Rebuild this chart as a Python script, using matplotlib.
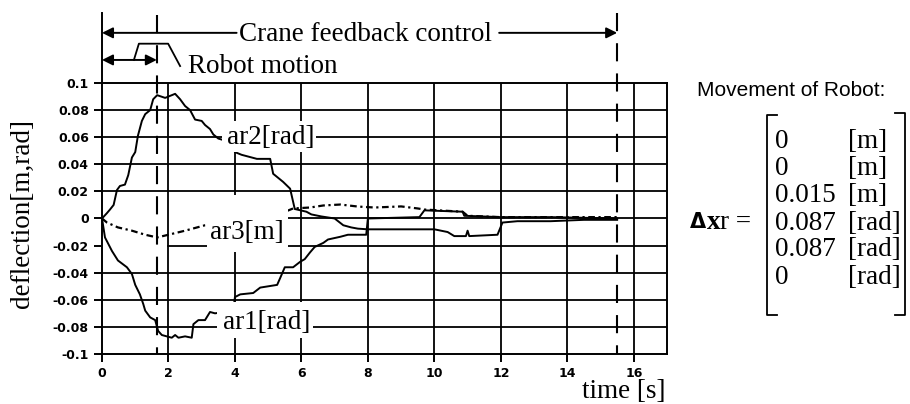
import matplotlib
matplotlib.use("Agg")
import matplotlib.pyplot as plt
from matplotlib.patches import Rectangle
from matplotlib.lines import Line2D

# ---- data ----
t_ar2 = [0, 0.15, 0.24, 0.35, 0.45, 0.54, 0.69, 0.79, 0.9, 1.0, 1.08, 1.2, 1.3, 1.45, 1.54, 1.66, 1.9, 2.2,
         2.35, 2.5, 2.65, 2.8, 3.0, 3.1, 3.25, 3.35, 3.5, 3.9, 4.0, 4.2, 4.66, 5.06, 5.15, 5.45, 5.66, 5.8,
         6.15, 6.3, 6.6, 7.0, 7.26, 7.5, 7.7, 8.0, 10.0, 10.4, 10.6, 10.95, 11.0, 11.05, 11.9, 12.05, 12.5,
         13.5, 14.5, 15.5]
ar2 = [0, 0.004, 0.0066, 0.010, 0.021, 0.024, 0.025, 0.032, 0.045, 0.049, 0.061, 0.072, 0.077, 0.080, 0.088,
       0.091, 0.089, 0.092, 0.088, 0.083, 0.080, 0.073, 0.072, 0.069, 0.066, 0.062, 0.059, 0.056, 0.049, 0.047,
       0.044, 0.044, 0.033, 0.027, 0.022, 0.007, 0.005, 0.003, 0.0015, 0.0, -0.005, -0.0066, -0.0075, -0.008,
       -0.008, -0.010, -0.013, -0.013, -0.009, -0.013, -0.012, -0.003, -0.002, -0.002, -0.001, -0.001]

t_ar1 = [0, 0.09, 0.3, 0.48, 0.75, 0.9, 1.0, 1.14, 1.24, 1.3, 1.45, 1.6, 1.69, 1.8, 2.1, 2.2, 2.3, 2.5, 2.7,
         2.75, 2.9, 3.1, 3.25, 3.4, 3.95, 4.0, 4.16, 4.55, 4.76, 5.27, 5.36, 5.5, 5.75, 5.96, 6.1, 6.26, 6.4,
         6.66, 6.8, 7.17, 7.4, 7.95, 8.0, 9.55, 9.7, 10.85, 10.9, 12.0, 13.5, 15.5]
ar1 = [0, -0.014, -0.024, -0.031, -0.036, -0.041, -0.049, -0.056, -0.063, -0.068, -0.073, -0.075, -0.083,
       -0.086, -0.088, -0.086, -0.088, -0.087, -0.088, -0.078, -0.075, -0.075, -0.069, -0.070, -0.068, -0.058,
       -0.056, -0.055, -0.051, -0.049, -0.044, -0.036, -0.036, -0.032, -0.030, -0.025, -0.021, -0.018, -0.0155,
       -0.0135, -0.012, -0.012, 0.0, 0.001, 0.006, 0.005, 0.002, 0.001, 0.001, 0.0]

t_ar3 = [0, 0.15, 0.48, 0.9, 1.3, 1.66, 2.0, 2.5, 3.1, 4.0, 4.7, 5.15, 5.45, 5.75, 6.26, 6.66, 7.17, 7.7, 8.2,
         9.0, 9.5, 9.7, 10.85, 11.0, 12.0, 13.5, 15.5]
ar3 = [0, -0.003, -0.0066, -0.009, -0.012, -0.014, -0.012, -0.009, -0.005, -0.003, -0.001, 0.001, 0.0044,
       0.0074, 0.0081, 0.0096, 0.0103, 0.0088, 0.0081, 0.0089, 0.0074, 0.0066, 0.005, 0.002, 0.001, 0.001, 0.001]

x_ticks = [0, 2, 4, 6, 8, 10, 12, 14, 16]
x_tick_labels = ['0', '2', '4', '6', '8', '10', '12', '14', '16']
y_ticks = [-0.1, -0.08, -0.06, -0.04, -0.02, 0, 0.02, 0.04, 0.06, 0.08, 0.1]
y_tick_labels = ['-0.1', '-0.08', '-0.06', '-0.04', '-0.02', '0', '0.02', '0.04', '0.06', '0.08', '0.1']

robot_motion_end = 1.65
crane_end = 15.5

matrix_values = ['0', '0', '0.015', '0.087', '0.087', '0']
matrix_units = ['[m]', '[m]', '[m]', '[rad]', '[rad]', '[rad]']

SERIF = 'Liberation Serif'
TS = 19.5

fig = plt.figure(figsize=(9.1, 4.04), dpi=100)
W, H = 910, 404
ax = fig.add_axes([102 / W, 0.1238, 565 / W, 0.6708])
ax.set_xlim(0, 17)
ax.set_ylim(-0.1, 0.1)

# grid (drawn as segments; some parts are missing in the original)
glw = 1.3
for xv in x_ticks[1:]:
    ax.plot([xv, xv], [-0.1, 0.1], color='k', lw=glw, zorder=1)
for yv in y_ticks[1:-1]:
    if abs(yv) < 1e-9:
        ax.plot([5.6, 17], [yv, yv], color='k', lw=glw, zorder=1)
    elif abs(yv + 0.02) < 1e-9:
        ax.plot([2.0, 17], [yv, yv], color='k', lw=glw, zorder=1)
    else:
        ax.plot([0, 17], [yv, yv], color='k', lw=glw, zorder=1)

for s in ax.spines.values():
    s.set_linewidth(1.4)

# curves
ax.plot(t_ar2, ar2, color='k', lw=1.4, zorder=2)
ax.plot(t_ar1, ar1, color='k', lw=1.4, zorder=2)
ax.plot(t_ar3, ar3, color='k', lw=1.6, ls=(0, (3, 1.6, 1, 1.6)), zorder=2)

# white label boxes
for (x0, x1, y0, y1) in [(3.6, 6.45, 0.049, 0.072), (3.15, 5.6, -0.025, 0.017), (3.45, 6.35, -0.088, -0.062)]:
    ax.add_patch(Rectangle((x0, y0), x1 - x0, y1 - y0, facecolor='white', edgecolor='none', zorder=3))

ax.text(3.77, 0.0595, 'ar2[rad]', family=SERIF, size=TS, ha='left', va='center', zorder=4)
ax.text(3.25, -0.0105, 'ar3[m]', family=SERIF, size=TS, ha='left', va='center', zorder=4)
ax.text(3.64, -0.077, 'ar1[rad]', family=SERIF, size=TS, ha='left', va='center', zorder=4)

# dashed vertical markers
dash = (0, (8.7, 5.8))
ax.plot([robot_motion_end, robot_motion_end], [0.15, -0.1], color='k', lw=1.5, ls=dash, clip_on=False, zorder=2)
ax.plot([crane_end, crane_end], [0.152, -0.1], color='k', lw=1.5, ls=dash, clip_on=False, zorder=2)
ax.plot([0, 0], [0.1, 0.152], color='k', lw=1.4, clip_on=False)

# top annotations
ax.annotate('', xy=(0, 0.137), xytext=(4.05, 0.137), annotation_clip=False,
            arrowprops=dict(arrowstyle='-|>', color='k', lw=1.4, mutation_scale=16, shrinkA=0, shrinkB=0))
ax.annotate('', xy=(crane_end, 0.137), xytext=(11.95, 0.137), annotation_clip=False,
            arrowprops=dict(arrowstyle='-|>', color='k', lw=1.4, mutation_scale=16, shrinkA=0, shrinkB=0))
ax.text(4.13, 0.1355, 'Crane feedback control', family=SERIF, size=TS, ha='left', va='center', clip_on=False)
ax.annotate('', xy=(0, 0.117), xytext=(robot_motion_end, 0.117), annotation_clip=False,
            arrowprops=dict(arrowstyle='<|-|>', color='k', lw=1.4, mutation_scale=16, shrinkA=0, shrinkB=0))
ax.plot([0.96, 1.11, 1.99, 2.35], [0.117, 0.129, 0.129, 0.1125], color='k', lw=1.3, clip_on=False)
ax.text(2.6, 0.1125, 'Robot motion', family=SERIF, size=TS, ha='left', va='center', clip_on=False)

# ticks
ax.set_xticks(x_ticks)
ax.set_xticklabels(x_tick_labels)
ax.set_yticks(y_ticks)
ax.set_yticklabels(y_tick_labels)
ax.tick_params(direction='out', length=6, width=1.4, pad=3.5, labelsize=9)
for lab in ax.get_xticklabels() + ax.get_yticklabels():
    lab.set_fontweight('bold')
    lab.set_family('DejaVu Sans')

fig.text(22 / W, 1 - 213 / H, 'deflection[m,rad]', rotation=90, family=SERIF, size=TS, ha='center', va='center')
fig.text(665 / W, 1 - 392 / H, 'time [s]', family=SERIF, size=TS, ha='right', va='center')

# right-hand side: movement of robot
fig.text(697 / W, 1 - 90 / H, 'Movement of Robot:', family='Liberation Sans', size=15, ha='left', va='center')
for i, (v, u) in enumerate(zip(matrix_values, matrix_units)):
    yy = 1 - (142 + 27 * i) / H
    fig.text(775 / W, yy, v, family=SERIF, size=TS, ha='left', va='center')
    fig.text(848 / W, yy, u, family=SERIF, size=TS, ha='left', va='center')
yd = 1 - 222 / H
fig.text(690 / W, yd, 'Δ', family='DejaVu Sans', weight='bold', size=15, ha='left', va='center')
fig.text(707 / W, yd, 'x', family=SERIF, weight='bold', size=TS, ha='left', va='center')
fig.text(720 / W, yd, 'r =', family=SERIF, size=TS, ha='left', va='center')


def fx(p):
    return p / W


def fy(p):
    return 1 - p / H


for xs, ys in [([777, 767, 767, 777], [115, 115, 315, 315]), ([895, 905, 905, 895], [113, 113, 315, 315])]:
    fig.add_artist(Line2D([fx(v) for v in xs], [fy(v) for v in ys], color='k', lw=1.3, transform=fig.transFigure))

fig.savefig('out.png', dpi=100)
